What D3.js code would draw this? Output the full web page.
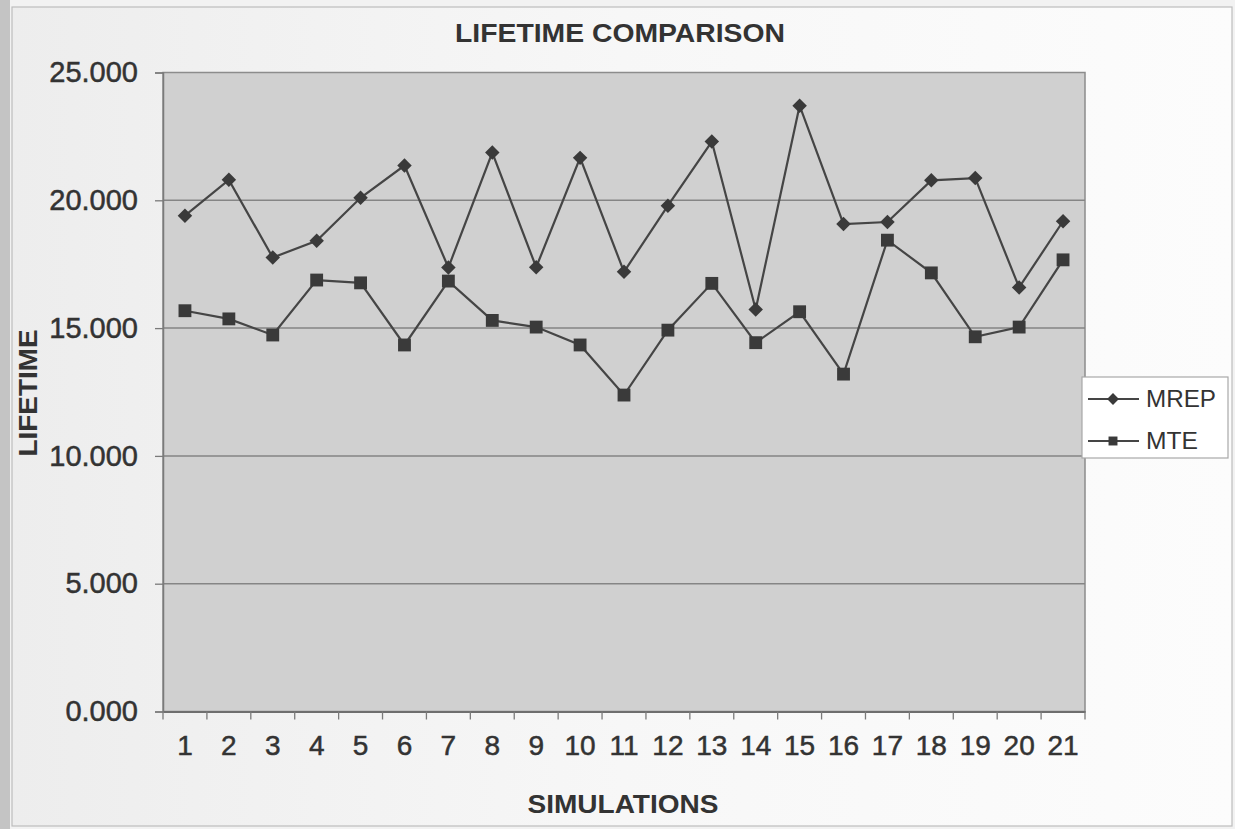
<!DOCTYPE html>
<html>
<head>
<meta charset="utf-8">
<script src="https://cdn.jsdelivr.net/npm/d3@7"></script>
<style>
  html, body { margin: 0; padding: 0; background: #f4f4f4; }
  svg { display: block; font-family: Arial, "Liberation Sans", sans-serif; }
</style>
</head>
<body>
<svg id="chart" width="1235" height="829"></svg>
<script>
// Simulation runs and the lifetime measured for each protocol
const simulations = d3.range(1, 22).map(String);
const mrep = [19.40, 20.80, 17.76, 18.42, 20.10, 21.36, 17.37, 21.87, 17.38, 21.66, 17.20,
              19.79, 22.30, 15.73, 23.70, 19.07, 19.15, 20.78, 20.87, 16.59, 19.18];
const mte  = [15.68, 15.36, 14.73, 16.88, 16.77, 14.34, 16.84, 15.30, 15.04, 14.34, 12.38,
              14.92, 16.75, 14.43, 15.64, 13.20, 18.44, 17.16, 14.66, 15.04, 17.67];
const yTicks = [0, 5, 10, 15, 20, 25];
const seriesNames = ["MREP", "MTE"];

const svg = d3.select("#chart");
const W = 1235, H = 829;
const plot = { left: 163, right: 1085, top: 72.5, bottom: 711.5 };
const ink = "#333333";
const fontStack = "Arial, 'Liberation Sans', sans-serif";

// page / chart frame
const bg = svg.append("defs").append("linearGradient").attr("id", "paper")
  .attr("x1", 0).attr("x2", 1).attr("y1", 0).attr("y2", 0);
bg.append("stop").attr("offset", 0).attr("stop-color", "#ededed");
bg.append("stop").attr("offset", 0.5).attr("stop-color", "#f7f7f7");
bg.append("stop").attr("offset", 1).attr("stop-color", "#fcfcfc");
svg.append("rect").attr("width", W).attr("height", H).attr("fill", "#f2f2f2");
svg.append("rect").attr("x", 0).attr("y", 0).attr("width", 10).attr("height", H).attr("fill", "#c4c4c4");
svg.append("rect").attr("x", 12).attr("y", 7).attr("width", 1220).attr("height", 819)
  .attr("fill", "url(#paper)").attr("stroke", "#bdbdbd").attr("stroke-width", 1.2);

const x = d3.scaleBand().domain(simulations).range([plot.left, plot.right]);
const y = d3.scaleLinear().domain([0, 25]).range([plot.bottom, plot.top]);
const cx = d => x(d) + x.bandwidth() / 2;

// plot area
svg.append("rect")
  .attr("x", plot.left).attr("y", plot.top)
  .attr("width", plot.right - plot.left).attr("height", plot.bottom - plot.top)
  .attr("fill", "#d0d0d0").attr("stroke", "#8c8c8c").attr("stroke-width", 1.5);

// horizontal gridlines
svg.append("g").selectAll("line").data(yTicks.filter(v => v > 0 && v < 25)).join("line")
  .attr("x1", plot.left).attr("x2", plot.right)
  .attr("y1", d => y(d)).attr("y2", d => y(d))
  .attr("stroke", "#858585").attr("stroke-width", 1.5);

// y axis
const yAxis = svg.append("g").attr("transform", `translate(${plot.left},0)`)
  .call(d3.axisLeft(y).tickValues(yTicks).tickFormat(d3.format(".3f")).tickSize(8).tickPadding(17));
yAxis.select(".domain").attr("stroke", "#7a7a7a").attr("stroke-width", 1.5);
yAxis.selectAll(".tick line").attr("stroke", "#7a7a7a").attr("stroke-width", 1.3);
yAxis.selectAll("text").attr("fill", ink).attr("font-size", 29).attr("font-family", fontStack)
  .attr("stroke", ink).attr("stroke-width", 0.5);

// x axis
const xAxis = svg.append("g").attr("transform", `translate(0,${plot.bottom})`)
  .call(d3.axisBottom(x).tickSize(0).tickPadding(24));
xAxis.select(".domain").attr("stroke", "#6e6e6e").attr("stroke-width", 2);
xAxis.selectAll("text").attr("fill", ink).attr("font-size", 28).attr("font-family", fontStack)
  .attr("stroke", ink).attr("stroke-width", 0.5);
// tick marks between categories
xAxis.append("g").selectAll("line").data(simulations.concat(["end"])).join("line")
  .attr("x1", (d, i) => plot.left + i * x.step()).attr("x2", (d, i) => plot.left + i * x.step())
  .attr("y1", 0).attr("y2", 8).attr("stroke", "#7a7a7a").attr("stroke-width", 1.3);

// series lines
const line = d3.line().x((d, i) => cx(simulations[i])).y(d => y(d));
const seriesData = [mrep, mte];
svg.append("g").selectAll("path").data(seriesData).join("path")
  .attr("d", line).attr("fill", "none").attr("stroke", "#454545").attr("stroke-width", 2.2);

const markColor = "#3a3a3a";
const diamondShape = d3.symbol().type(d3.symbolSquare).size(105);
const squareShape = d3.symbol().type(d3.symbolSquare).size(165);

// MREP: diamonds (rotated squares)
svg.append("g").selectAll("path").data(mrep).join("path")
  .attr("transform", (d, i) => `translate(${cx(simulations[i])},${y(d)}) rotate(45)`)
  .attr("d", diamondShape)
  .attr("fill", markColor);

// MTE: squares
svg.append("g").selectAll("path").data(mte).join("path")
  .attr("transform", (d, i) => `translate(${cx(simulations[i])},${y(d)})`)
  .attr("d", squareShape).attr("fill", markColor);

// titles
svg.append("text").attr("x", 620).attr("y", 42).attr("text-anchor", "middle")
  .attr("font-size", 25).attr("font-weight", "bold").attr("fill", ink)
  .attr("textLength", 330).attr("lengthAdjust", "spacingAndGlyphs")
  .text("LIFETIME COMPARISON");
svg.append("text").attr("x", 623).attr("y", 813).attr("text-anchor", "middle")
  .attr("font-size", 26).attr("font-weight", "bold").attr("fill", ink)
  .attr("textLength", 191).attr("lengthAdjust", "spacingAndGlyphs")
  .text("SIMULATIONS");
svg.append("text").attr("transform", "translate(37,393) rotate(-90)").attr("text-anchor", "middle")
  .attr("font-size", 26).attr("font-weight", "bold").attr("fill", ink)
  .attr("textLength", 127).attr("lengthAdjust", "spacingAndGlyphs")
  .text("LIFETIME");

// legend
const lg = svg.append("g");
lg.append("rect").attr("x", 1082).attr("y", 377).attr("width", 146).attr("height", 81)
  .attr("fill", "#ffffff").attr("stroke", "#a8a8a8").attr("stroke-width", 1.2);
const legY = [399, 441];
seriesNames.forEach((name, i) => {
  lg.append("line").attr("x1", 1088).attr("x2", 1139).attr("y1", legY[i]).attr("y2", legY[i])
    .attr("stroke", "#454545").attr("stroke-width", 2);
  lg.append("path")
    .attr("transform", `translate(1113,${legY[i]})` + (i === 0 ? " rotate(45)" : ""))
    .attr("d", d3.symbol().type(d3.symbolSquare).size(i === 0 ? 70 : 80)())
    .attr("fill", markColor);
  lg.append("text").attr("x", 1146).attr("y", legY[i] + 8)
    .attr("font-size", 23).attr("fill", ink)
    .attr("textLength", i === 0 ? 70 : 52).attr("lengthAdjust", "spacingAndGlyphs")
    .text(name);
});
</script>
</body>
</html>
